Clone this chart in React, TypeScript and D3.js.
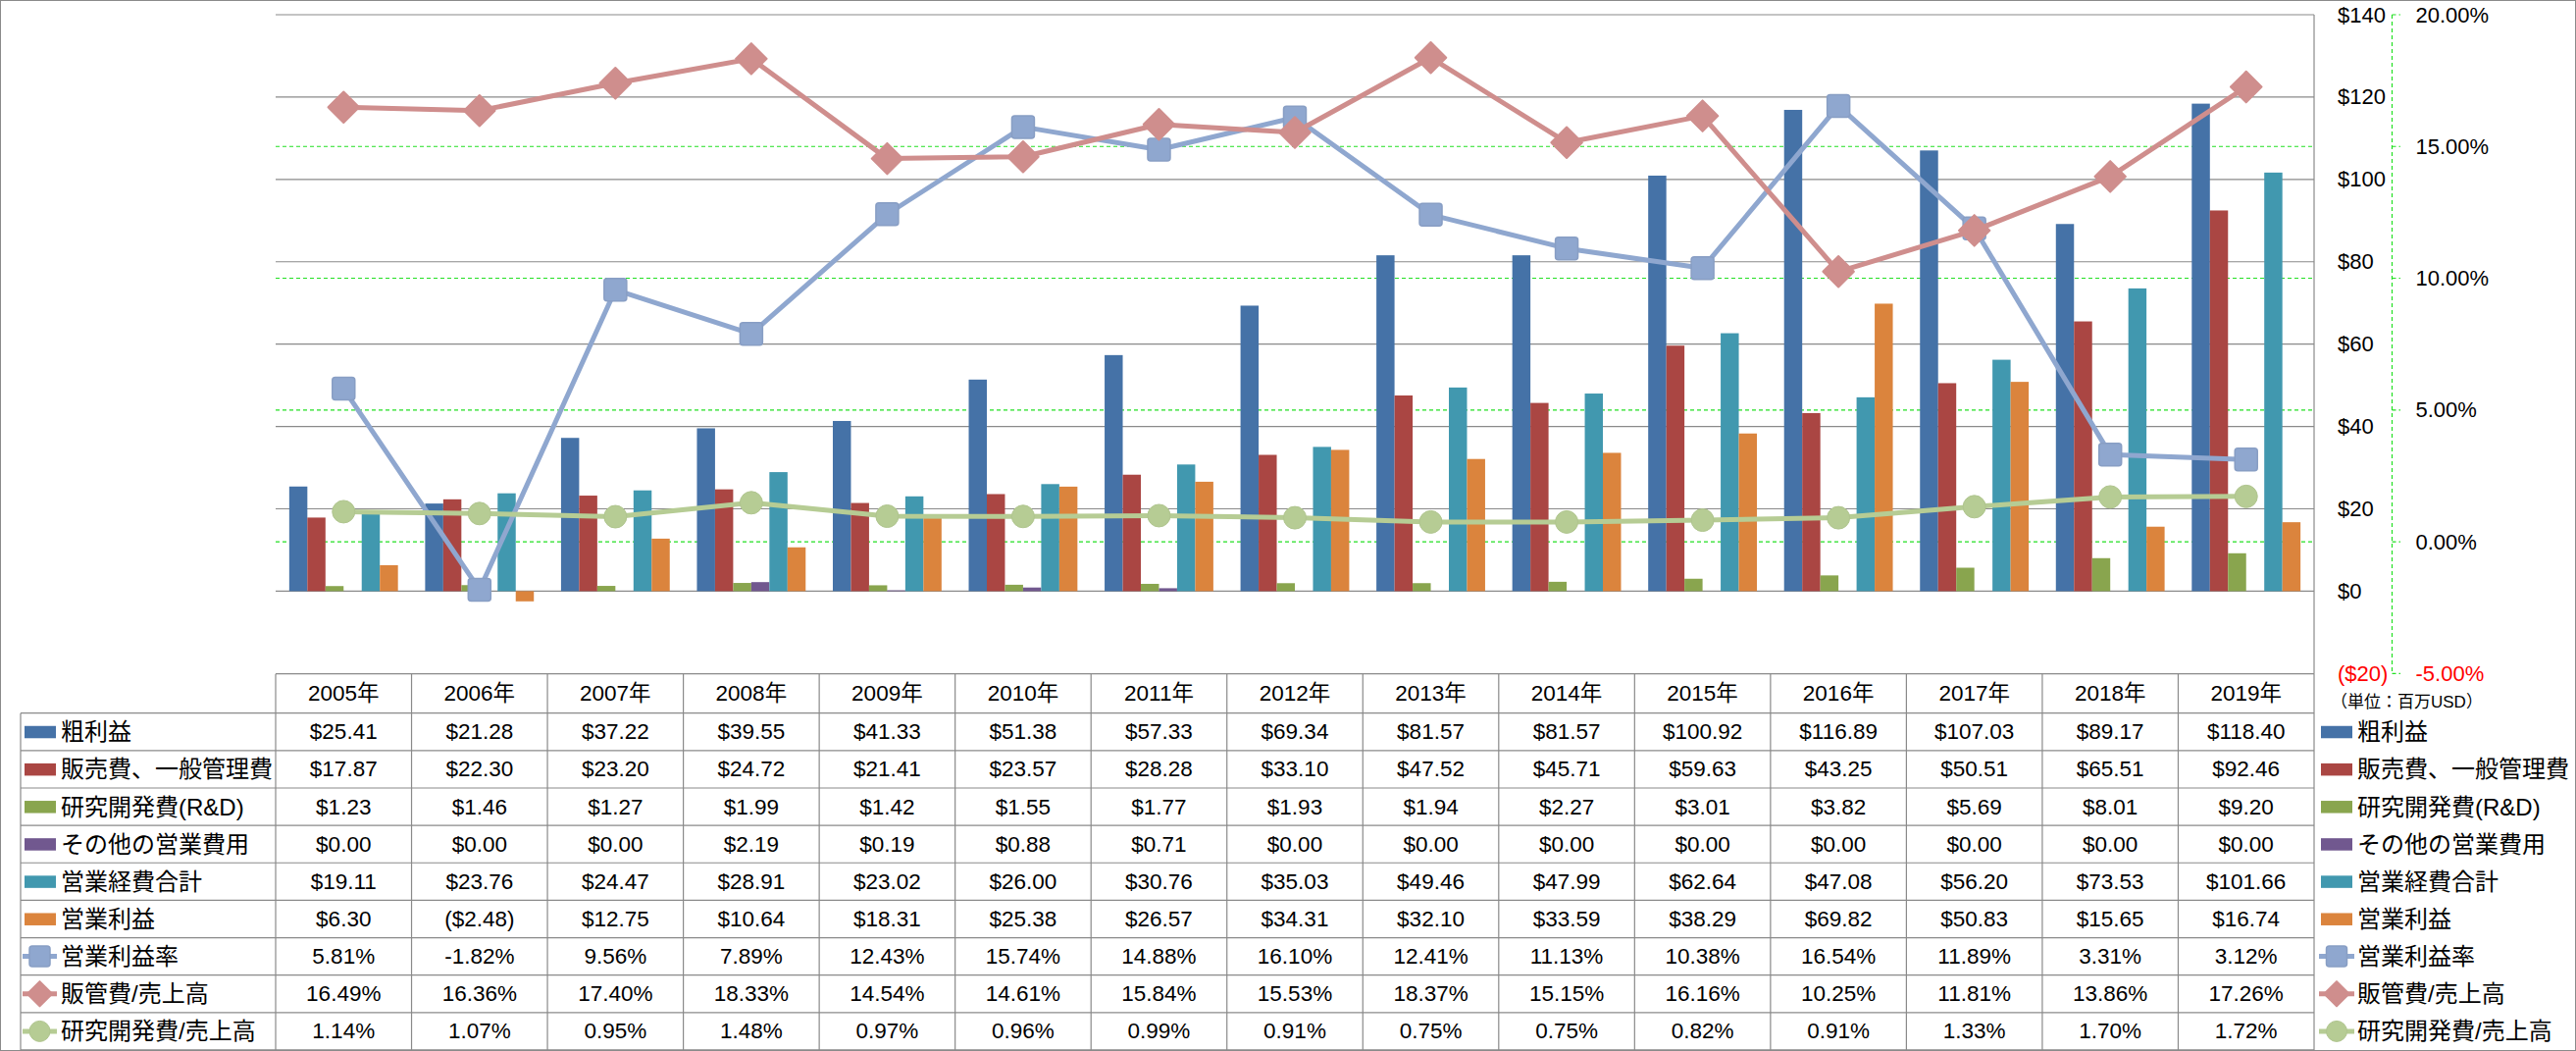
import React from "react";
import * as d3 from "d3";

const years = ["2005年","2006年","2007年","2008年","2009年","2010年","2011年","2012年","2013年","2014年","2015年","2016年","2017年","2018年","2019年"];
const grossProfit = [25.41,21.28,37.22,39.55,41.33,51.38,57.33,69.34,81.57,81.57,100.92,116.89,107.03,89.17,118.40];
const sga = [17.87,22.30,23.20,24.72,21.41,23.57,28.28,33.10,47.52,45.71,59.63,43.25,50.51,65.51,92.46];
const rnd = [1.23,1.46,1.27,1.99,1.42,1.55,1.77,1.93,1.94,2.27,3.01,3.82,5.69,8.01,9.20];
const otherOpex = [0,0,0,2.19,0.19,0.88,0.71,0,0,0,0,0,0,0,0];
const totalOpex = [19.11,23.76,24.47,28.91,23.02,26.00,30.76,35.03,49.46,47.99,62.64,47.08,56.20,73.53,101.66];
const opIncome = [6.30,-2.48,12.75,10.64,18.31,25.38,26.57,34.31,32.10,33.59,38.29,69.82,50.83,15.65,16.74];
const opMargin = [5.81,-1.82,9.56,7.89,12.43,15.74,14.88,16.10,12.41,11.13,10.38,16.54,11.89,3.31,3.12];
const sgaRatio = [16.49,16.36,17.40,18.33,14.54,14.61,15.84,15.53,18.37,15.15,16.16,10.25,11.81,13.86,17.26];
const rndRatio = [1.14,1.07,0.95,1.48,0.97,0.96,0.99,0.91,0.75,0.75,0.82,0.91,1.33,1.70,1.72];

const barNames = ["粗利益","販売費、一般管理費","研究開発費(R&D)","その他の営業費用","営業経費合計","営業利益"];
const lineNames = ["営業利益率","販管費/売上高","研究開発費/売上高"];
const primaryTicks = [-20,0,20,40,60,80,100,120,140];
const secondaryTicks = [-5,0,5,10,15,20];
const unitLabel = "（単位：百万USD）";

const barColors = ["#4572A7","#AA4643","#89A54E","#71588F","#4198AF","#DB843D"];
const lineColors = ["#8FA7CF","#CF8E8D","#B6CC94"];
const markerKinds = ["square","diamond","circle"];

const W = 2626, H = 1071;
const PL = 281, PR = 2359, PT = 15, PB = 686.3;
const TABLE_HEAD = 686.7, ROW0 = 726.7, ROW_H = 38.14;
const GRID = "#8a8a8a";
const FONT = "'Liberation Sans', 'Noto Sans CJK JP', sans-serif";

function fmtMoney(v: number) {
  return v < 0 ? `($${(-v).toFixed(2)})` : `$${v.toFixed(2)}`;
}
function fmtPct(v: number) {
  return `${v.toFixed(2)}%`;
}
function fmtTick(v: number) {
  return v < 0 ? `($${-v})` : `$${v}`;
}

function Marker({ kind, x, y, s, color }: { kind: string; x: number; y: number; s: number; color: string }) {
  if (kind === "square") {
    return <rect x={x - s / 2} y={y - s / 2} width={s} height={s} rx={3} fill={color} stroke={d3.color(color)!.darker(0.15).toString()} strokeWidth={1.5} />;
  }
  if (kind === "diamond") {
    const r = s * 0.7;
    return <path d={`M${x},${y - r}L${x + r},${y}L${x},${y + r}L${x - r},${y}Z`} fill={color} stroke={color} strokeWidth={2} strokeLinejoin="round" />;
  }
  return <circle cx={x} cy={y} r={s / 2} fill={color} stroke={d3.color(color)!.darker(0.1).toString()} strokeWidth={1} />;
}

export default function App() {
  const x = d3.scaleBand<string>().domain(years).range([PL, PR]).padding(0);
  const bw = x.bandwidth();
  const xs = d3.scaleBand<string>().domain(barNames).range([bw * 0.1, bw * 0.9]).padding(0);
  const y = d3.scaleLinear().domain([-20, 140]).range([PB, PT]);
  const y2 = d3.scaleLinear().domain([-5, 20]).range([PB, PT]);

  const barSeries = [grossProfit, sga, rnd, otherOpex, totalOpex, opIncome];
  const lineSeries = [opMargin, sgaRatio, rndRatio];
  const tableRows: string[][] = [
    ...barSeries.map((s) => s.map(fmtMoney)),
    ...lineSeries.map((s) => s.map(fmtPct)),
  ];
  const allNames = [...barNames, ...lineNames];
  const cx = (i: number) => (x(years[i]) as number) + bw / 2;

  const lineGen = d3.line<number>().x((_, i) => cx(i)).y((d) => y2(d));

  const rowCenter = (r: number) => ROW0 + r * ROW_H + ROW_H / 2;

  const legendKey = (r: number, x0: number, x1: number) => {
    const yc = rowCenter(r);
    if (r < 6) {
      return <rect x={x0 + 2} y={yc - 6} width={32} height={12.5} fill={barColors[r]} />;
    }
    const li = r - 6;
    const mid = (x0 + x1) / 2;
    return (
      <g>
        <line x1={x0} x2={x1} y1={yc} y2={yc} stroke={lineColors[li]} strokeWidth={5} />
        <Marker kind={markerKinds[li]} x={mid} y={yc} s={li === 1 ? 18 : 21} color={lineColors[li]} />
      </g>
    );
  };

  return (
    <svg width={W} height={H} style={{ position: "absolute", left: 0, top: 0, display: "block", background: "#fff" }} fontFamily={FONT}>
      <rect x={0.5} y={0.5} width={W - 1} height={H - 1} fill="#fff" stroke={GRID} strokeWidth={1} />

      {/* gray gridlines */}
      {primaryTicks.filter((t) => t >= 0).map((t) => (
        <line key={"g" + t} x1={PL} x2={PR} y1={y(t)} y2={y(t)} stroke={GRID} strokeWidth={1.2} />
      ))}
      {/* green dashed secondary gridlines */}
      {secondaryTicks.filter((t) => t > -5 && t < 20).map((t) => (
        <line key={"s" + t} x1={PL} x2={PR} y1={y2(t)} y2={y2(t)} stroke="#22e022" strokeWidth={1.2} strokeDasharray="4,3" />
      ))}

      {/* bars */}
      {barSeries.map((s, si) => (
        <g key={"b" + si} fill={barColors[si]}>
          {s.map((v, i) => {
            const bx = (x(years[i]) as number) + (xs(barNames[si]) as number);
            const y0 = y(0), yv = y(v);
            return <rect key={i} x={bx} width={xs.bandwidth()} y={Math.min(y0, yv)} height={Math.abs(y0 - yv)} />;
          })}
        </g>
      ))}

      {/* lines */}
      {lineSeries.map((s, li) => (
        <g key={"l" + li}>
          <path d={lineGen(s) as string} fill="none" stroke={lineColors[li]} strokeWidth={5} strokeLinejoin="round" />
          {s.map((v, i) => (
            <Marker key={i} kind={markerKinds[li]} x={cx(i)} y={y2(v)} s={li === 1 ? 22.5 : 23} color={lineColors[li]} />
          ))}
        </g>
      ))}

      {/* plot right border */}
      <line x1={PR} x2={PR} y1={PT} y2={TABLE_HEAD} stroke={GRID} strokeWidth={1.2} />

      {/* primary axis labels */}
      {primaryTicks.map((t) => (
        <text key={"pt" + t} x={2383} y={y(t)} dominantBaseline="central" fontSize={22} fill={t < 0 ? "#ff0000" : "#000"}>
          {fmtTick(t)}
        </text>
      ))}
      {/* secondary axis */}
      <line x1={2438.5} x2={2438.5} y1={PT} y2={PB} stroke="#22e022" strokeWidth={1.2} strokeDasharray="4,3" />
      {secondaryTicks.map((t) => (
        <g key={"st" + t}>
          <line x1={2438.5} x2={2447} y1={y2(t)} y2={y2(t)} stroke="#22e022" strokeWidth={1.2} strokeDasharray="4,3" />
          <text x={2462.5} y={y2(t)} dominantBaseline="central" fontSize={22} fill={t < 0 ? "#ff0000" : "#000"}>
            {fmtPct(t)}
          </text>
        </g>
      ))}
      <text x={2376} y={715} dominantBaseline="central" fontSize={17} fill="#000">{unitLabel}</text>

      {/* table */}
      <g stroke={GRID} strokeWidth={1.2}>
        <line x1={PL} x2={PR} y1={TABLE_HEAD} y2={TABLE_HEAD} />
        {d3.range(10).map((r) => (
          <line key={"h" + r} x1={21} x2={PR} y1={ROW0 + r * ROW_H} y2={ROW0 + r * ROW_H} />
        ))}
        <line x1={21} x2={21} y1={ROW0} y2={ROW0 + 9 * ROW_H} />
        {d3.range(16).map((c) => (
          <line key={"v" + c} x1={PL + c * bw} x2={PL + c * bw} y1={TABLE_HEAD} y2={ROW0 + 9 * ROW_H} />
        ))}
      </g>
      {years.map((yr, i) => (
        <text key={"yr" + i} x={cx(i)} y={(TABLE_HEAD + ROW0) / 2} textAnchor="middle" dominantBaseline="central" fontSize={22.5}>
          {yr}
        </text>
      ))}
      {tableRows.map((row, r) => (
        <g key={"row" + r}>
          {legendKey(r, 23, 58)}
          <text x={62} y={rowCenter(r)} dominantBaseline="central" fontSize={24}>{allNames[r]}</text>
          {row.map((cell, i) => (
            <text key={i} x={cx(i)} y={rowCenter(r)} textAnchor="middle" dominantBaseline="central" fontSize={22.5}>
              {cell}
            </text>
          ))}
          {legendKey(r, 2364, 2400)}
          <text x={2403} y={rowCenter(r)} dominantBaseline="central" fontSize={24}>{allNames[r]}</text>
        </g>
      ))}
    </svg>
  );
}
